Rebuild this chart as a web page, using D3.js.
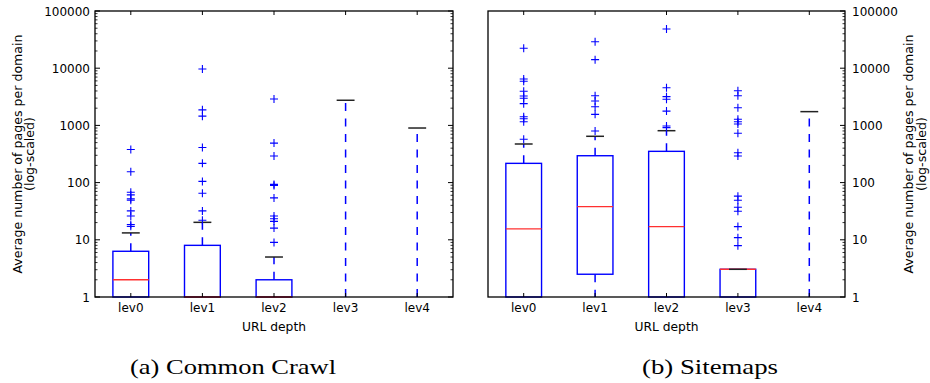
<!DOCTYPE html>
<html><head><meta charset="utf-8">
<script src="https://cdn.jsdelivr.net/npm/d3@7"></script>
<style>body{margin:0;background:#fff}svg{display:block}</style>
</head><body>
<svg id="chart" width="930" height="383"></svg>
<script>
const categories = ["lev0", "lev1", "lev2", "lev3", "lev4"];
const yTickValues = [1, 10, 100, 1000, 10000, 100000];

// (a) Common Crawl  (null median = no visible median line)
const ccQ1 = [1, 1, 1, 1, 1];
const ccMedian = [2, 1, 1, null, null];
const ccQ3 = [6.3, 8.0, 2.0, 1, 1];
const ccWhiskerLow = [1, 1, 1, 1, 1];
const ccWhiskerHigh = [13.2, 20.2, 5.0, 2750, 900];
const ccFliers = [
  [380, 155, 68, 61, 52, 49, 32, 26, 18.5, 17.2],
  [9700, 1870, 1450, 410, 217, 105, 65, 32, 22],
  [2900, 490, 292, 93, 89, 54, 26, 23.4, 21, 16, 9],
  [],
  []
];

// (b) Sitemaps
const smQ1 = [1, 2.5, 1, 1, 1];
const smMedian = [15.5, 38, 17, 3.05, null];
const smQ3 = [217, 295, 352, 3.05, 1];
const smWhiskerLow = [1, 1, 1, 1, 1];
const smWhiskerHigh = [473, 645, 808, 3.05, 1740];
const smFliers = [
  [22300, 6460, 5900, 3950, 3270, 2980, 2400, 1420, 1310, 1160, 571],
  [29000, 14100, 3300, 2670, 2120, 1560, 800],
  [48400, 4560, 3180, 2860, 1780, 975, 913],
  [4040, 3300, 2040, 1280, 1160, 1060, 727, 333, 292, 58, 49, 37, 31.5, 17, 10.9, 7.9],
  []
];

const svg = d3.select("#chart");
const plotTop = 11, plotBottom = 297;
const y = d3.scaleLog().domain([1, 100000]).range([plotBottom, plotTop]);
const font = "DejaVu Sans";

function panel(x0, x1, q1, med, q3, wlo, whi, fliers, side, caption, capX, capW) {
  const x = d3.scaleLinear().domain([0.5, categories.length + 0.5]).range([x0, x1]);
  const bw = (x(1) - x(0)) * 0.5;
  const g = svg.append("g");
  const data = categories.map((c, i) => ({c, i, q1: q1[i], med: med[i], q3: q3[i], lo: wlo[i], hi: whi[i], f: fliers[i]}));
  const cx = d => x(d.i + 1);
  g.selectAll(".wu").data(data.filter(d => d.hi > d.q3)).join("line")
    .attr("x1", cx).attr("x2", cx).attr("y1", d => y(d.q3)).attr("y2", d => y(d.hi))
    .attr("stroke", "#0000ff").attr("stroke-width", 1.5).attr("stroke-dasharray", "8,7.5");
  g.selectAll(".wl").data(data.filter(d => d.lo < d.q1)).join("line")
    .attr("x1", cx).attr("x2", cx).attr("y1", d => y(d.q1)).attr("y2", d => y(d.lo))
    .attr("stroke", "#0000ff").attr("stroke-width", 1.5).attr("stroke-dasharray", "8,7.5");
  g.selectAll(".box").data(data.filter(d => d.q3 > d.q1)).join("rect")
    .attr("x", d => cx(d) - bw / 2).attr("width", bw)
    .attr("y", d => y(d.q3)).attr("height", d => y(d.q1) - y(d.q3))
    .attr("fill", "none").attr("stroke", "#0000ff").attr("stroke-width", 1.4);
  g.selectAll(".med").data(data.filter(d => d.med != null)).join("line")
    .attr("x1", d => cx(d) - bw / 2).attr("x2", d => cx(d) + bw / 2)
    .attr("y1", d => y(d.med)).attr("y2", d => y(d.med))
    .attr("stroke", "#ff3030").attr("stroke-width", 1.4);
  g.selectAll(".cap").data(data).join("line")
    .attr("x1", d => cx(d) - bw / 4).attr("x2", d => cx(d) + bw / 4)
    .attr("y1", d => y(d.hi)).attr("y2", d => y(d.hi))
    .attr("stroke", "#222").attr("stroke-width", 1.5);
  const fl = data.flatMap(d => d.f.map(v => ({i: d.i, v})));
  g.selectAll(".fl").data(fl).join("path")
    .attr("d", d => {
      const px = x(d.i + 1), py = y(d.v), r = 4;
      return `M${px - r},${py}H${px + r}M${px},${py - r}V${py + r}`;
    })
    .attr("stroke", "#0000ff").attr("stroke-width", 1.1).attr("fill", "none");

  const ax = svg.append("g");
  const minor = [];
  for (let e = 0; e < 5; e++) for (let k = 2; k <= 9; k++) minor.push(k * Math.pow(10, e));
  const sides = side === "left" ? [x0, x1] : [x1];
  sides.forEach(sx => {
    const dir = sx === x0 ? 1 : -1;
    ax.selectAll(null).data(yTickValues).join("line")
      .attr("x1", sx).attr("x2", sx + dir * 5).attr("y1", d => y(d)).attr("y2", d => y(d))
      .attr("stroke", "#000").attr("stroke-width", 1);
    ax.selectAll(null).data(minor).join("line")
      .attr("x1", sx).attr("x2", sx + dir * 2.5).attr("y1", d => y(d)).attr("y2", d => y(d))
      .attr("stroke", "#000").attr("stroke-width", 0.8);
  });
  ax.selectAll(null).data(categories).join("line")
    .attr("x1", (c, i) => x(i + 1)).attr("x2", (c, i) => x(i + 1))
    .attr("y1", plotBottom).attr("y2", plotBottom - 4).attr("stroke", "#000");
  ax.selectAll(null).data(categories).join("line")
    .attr("x1", (c, i) => x(i + 1)).attr("x2", (c, i) => x(i + 1))
    .attr("y1", plotTop).attr("y2", plotTop + 4).attr("stroke", "#000");
  ax.append("rect").attr("x", x0).attr("y", plotTop).attr("width", x1 - x0).attr("height", plotBottom - plotTop)
    .attr("fill", "none").attr("stroke", "#000").attr("stroke-width", 1.3);
  ax.selectAll(null).data(categories).join("text")
    .attr("x", (c, i) => x(i + 1)).attr("y", 312).attr("text-anchor", "middle")
    .attr("font-family", font).attr("font-size", 12).text(d => d);
  ax.append("text").attr("x", (x0 + x1) / 2).attr("y", 331).attr("text-anchor", "middle")
    .attr("font-family", font).attr("font-size", 12.3).text("URL depth");
  const lx = side === "left" ? x0 - 5 : x1 + 7;
  ax.selectAll(null).data(yTickValues).join("text")
    .attr("x", lx).attr("y", d => y(d) + 4.5)
    .attr("text-anchor", side === "left" ? "end" : "start")
    .attr("font-family", font).attr("font-size", 12).text(d => String(d));
  const l1 = side === "left" ? 21.5 : 913;
  const yc = (plotTop + plotBottom) / 2;
  [["Average number of pages per domain", l1], ["(log-scaled)", l1 + 12.5]].forEach(([t, px]) => {
    ax.append("text").attr("transform", `translate(${px},${yc}) rotate(-90)`)
      .attr("text-anchor", "middle").attr("font-family", font).attr("font-size", 12.6).text(t);
  });
  svg.append("text").attr("x", capX).attr("y", 374).attr("font-family", "Liberation Serif, DejaVu Serif, serif")
    .attr("font-size", 21).attr("textLength", capW).attr("lengthAdjust", "spacingAndGlyphs").text(caption);
}

panel(95, 453, ccQ1, ccMedian, ccQ3, ccWhiskerLow, ccWhiskerHigh, ccFliers, "left", "(a) Common Crawl", 130, 206);
panel(488, 845, smQ1, smMedian, smQ3, smWhiskerLow, smWhiskerHigh, smFliers, "right", "(b) Sitemaps", 642, 136);
</script>
</body></html>
